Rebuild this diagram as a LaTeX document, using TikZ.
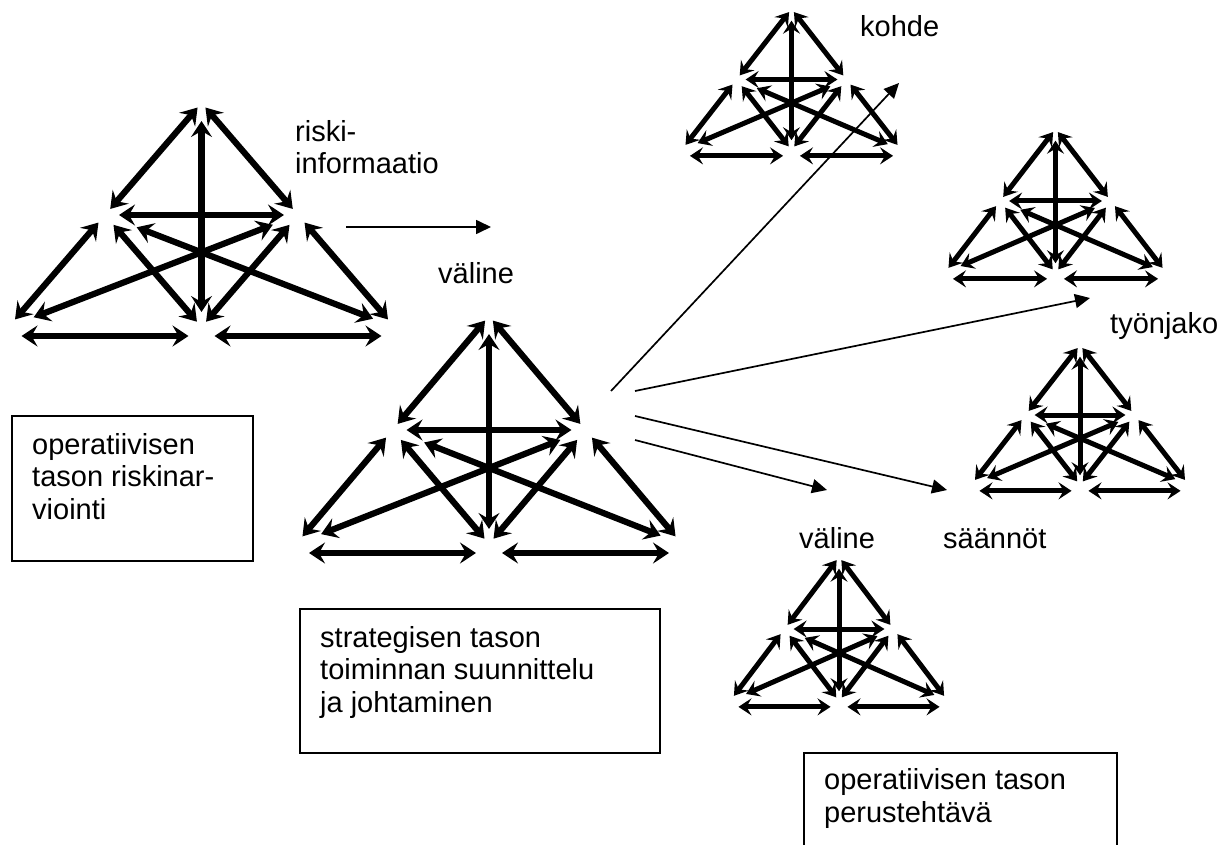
\documentclass[tikz,border=0pt]{standalone}
\usepackage{fontspec}
\setmainfont{Liberation Sans}
\usetikzlibrary{arrows.meta}

\tikzset{
  bighead/.tip={Stealth[length=16pt,width=21pt,inset=6pt]},
  smallhead/.tip={Stealth[length=13pt,width=17pt,inset=5pt]},
  linkbig/.style={line width=6.2pt, {bighead}-{bighead}},
  linksmall/.style={line width=5pt, {smallhead}-{smallhead}},
  thinarrow/.style={line width=1.7pt, -{Triangle[length=15pt,width=14pt]}},
  txt/.style={font=\fontsize{29}{32.5}\selectfont, inner sep=0pt, anchor=base west, align=left},
  boxframe/.style={draw, line width=1.7pt, anchor=north west, inner sep=0pt},
}

% Activity system: a triangle with its midpoints, sides, inner triangle and medians,
% every link a two-headed arrow.
% #1 name, #2 centre x, #3 base y, #4 half width, #5 height, #6 gap factor, #7 link style
\newcommand{\actsystem}[7]{%
  \begin{scope}[shift={(#2,#3)}, x=#4pt, y=#5pt]
    \coordinate (#1-A)  at (0,1);
    \coordinate (#1-L)  at (-0.5,0.5);
    \coordinate (#1-R)  at (0.5,0.5);
    \coordinate (#1-BL) at (-1,0);
    \coordinate (#1-BM) at (0,0);
    \coordinate (#1-BR) at (1,0);
    \def\gapk{#6}
    \draw[#7, shorten <=\gapk*6pt,  shorten >=\gapk*8pt]  (#1-A) -- (#1-L);
    \draw[#7, shorten <=\gapk*6pt,  shorten >=\gapk*8pt]  (#1-A) -- (#1-R);
    \draw[#7, shorten <=\gapk*18pt, shorten >=\gapk*15pt] (#1-A) -- (#1-BM);
    \draw[#7, shorten <=\gapk*14pt, shorten >=\gapk*14pt] (#1-L) -- (#1-R);
    \draw[#7, shorten <=\gapk*10pt, shorten >=\gapk*10pt] (#1-L) -- (#1-BL);
    \draw[#7, shorten <=\gapk*10pt, shorten >=\gapk*10pt] (#1-R) -- (#1-BR);
    \draw[#7, shorten <=\gapk*13pt, shorten >=\gapk*7pt]  (#1-L) -- (#1-BM);
    \draw[#7, shorten <=\gapk*13pt, shorten >=\gapk*7pt]  (#1-R) -- (#1-BM);
    \draw[#7, shorten <=\gapk*27pt, shorten >=\gapk*27pt] (#1-BL) -- (#1-R);
    \draw[#7, shorten <=\gapk*34pt, shorten >=\gapk*23pt] (#1-L) -- (#1-BR);
    \draw[#7, shorten <=\gapk*13pt, shorten >=\gapk*13pt]
      ([yshift=-\gapk*9pt]#1-BL) -- ([yshift=-\gapk*9pt]#1-BM);
    \draw[#7, shorten <=\gapk*13pt, shorten >=\gapk*13pt]
      ([yshift=-\gapk*9pt]#1-BM) -- ([yshift=-\gapk*9pt]#1-BR);
  \end{scope}}

\begin{document}
\begin{tikzpicture}[x=1pt, y=-1pt]
  \fill[white] (0,0) rectangle (1231,845);
  \useasboundingbox (0,0) rectangle (1231,845);

  % activity systems
  \actsystem{risk}{201.5}{327}{193}{224}{1}{linkbig}
  \actsystem{strat}{489}{544}{193}{228}{1}{linkbig}
  \actsystem{obj}{791.5}{150}{110}{141}{0.65}{linksmall}
  \actsystem{div}{1055.5}{273}{111}{144}{0.65}{linksmall}
  \actsystem{rule}{1080}{485}{109}{140}{0.65}{linksmall}
  \actsystem{tool}{839}{701}{109}{144}{0.65}{linksmall}

  % information and influence arrows
  \coordinate (riskout) at (346,227);
  \coordinate (riskin)  at (491,227);
  \coordinate (hubA) at (611,391);
  \coordinate (hubB) at (635,391);
  \coordinate (hubC) at (635,416);
  \coordinate (hubD) at (635,440);
  \coordinate (toobj)  at (899,83);
  \coordinate (todiv)  at (1090,298);
  \coordinate (torule) at (947,490);
  \coordinate (totool) at (827,490);
  \draw[thinarrow] (riskout) -- (riskin);
  \draw[thinarrow] (hubA) -- (toobj);
  \draw[thinarrow] (hubB) -- (todiv);
  \draw[thinarrow] (hubC) -- (torule);
  \draw[thinarrow] (hubD) -- (totool);

  % labels (anchored at the baseline of their last line)
  \node[txt] (lriski) at (295,174) {riski-\\informaatio};
  \node[txt] (lvaline) at (438,283) {väline};
  \node[txt] (lkohde) at (860,37) {kohde};
  \node[txt] (ltyonjako) at (1110,333) {työnjako};
  \node[txt] (lvaline2) at (799,548) {väline};
  \node[txt] (lsaannot) at (943,548) {säännöt};

  % framed captions
  \node[boxframe, minimum width=241pt, minimum height=145pt] (box1) at (11,415) {};
  \node[txt] (cap1) at (32,519) {operatiivisen\\tason riskinar-\\viointi};
  \node[boxframe, minimum width=360pt, minimum height=144pt] (box2) at (299,608) {};
  \node[txt] (cap2) at (320,712) {strategisen tason\\toiminnan suunnittelu\\ja johtaminen};
  \node[boxframe, minimum width=313pt, minimum height=120pt] (box3) at (803,752) {};
  \node[txt] (cap3) at (824,822) {operatiivisen tason\\perustehtävä};
\end{tikzpicture}
\end{document}
